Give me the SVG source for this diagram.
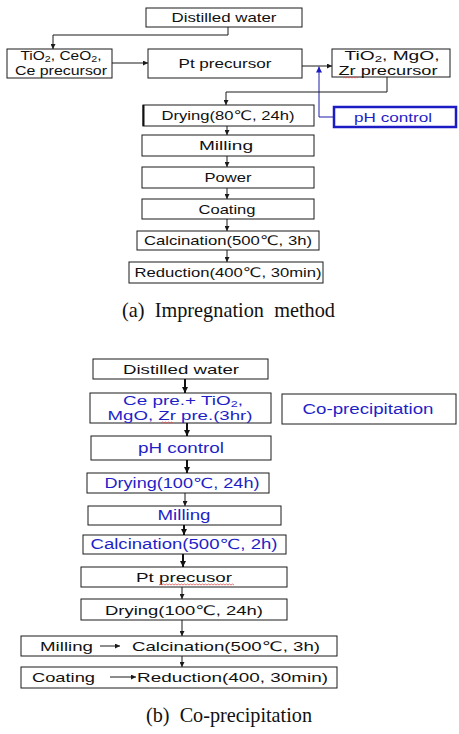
<svg xmlns="http://www.w3.org/2000/svg" width="459" height="734" viewBox="0 0 459 734">
<defs>
<style>
.box{fill:#fff;stroke:#1a1a1a;stroke-width:1}
.bb{fill:#fff;stroke:#1c1cc4;stroke-width:2.5}
.t{font-family:"Liberation Sans",Arial,"DejaVu Sans",sans-serif;font-size:13px;fill:#111;text-anchor:middle}
.ts{font-family:"Liberation Sans",Arial,"DejaVu Sans",sans-serif;font-size:13px;fill:#111}
.bl{fill:#1f1fc8;font-size:14px}
.b2{font-size:13.5px}
.sub{font-size:9px}
.c{stroke:#1a1a1a;stroke-width:1;fill:none}
.ck{stroke:#111;stroke-width:2;fill:none}
.cb{stroke:#1c1ca8;stroke-width:1;fill:none}
.sq{stroke:#e05050;stroke-width:0.8;fill:none}
.cap{font-family:"Liberation Serif","Times New Roman",serif;font-size:21px;fill:#111}
</style>
<marker id="ah" viewBox="0 0 6 6" refX="6" refY="3" markerWidth="5" markerHeight="5" markerUnits="userSpaceOnUse" orient="auto"><path d="M0,0 L6,3 L0,6 z" fill="#1a1a1a"/></marker>
<marker id="ak" viewBox="0 0 6 6" refX="6" refY="3" markerWidth="6" markerHeight="6" markerUnits="userSpaceOnUse" orient="auto"><path d="M0,0 L6,3 L0,6 z" fill="#111"/></marker>
<marker id="ab" viewBox="0 0 6 6" refX="6" refY="3" markerWidth="6" markerHeight="6" markerUnits="userSpaceOnUse" orient="auto"><path d="M0,0 L6,3 L0,6 z" fill="#1c1cc4"/></marker>
</defs>
<rect width="459" height="734" fill="#fff"/>

<g id="n-distilled-a"><rect class="box" x="146" y="8" width="156" height="19"/><text class="t" x="224" y="22" textLength="105" lengthAdjust="spacingAndGlyphs">Distilled water</text></g>
<g id="n-tio2-ceo2"><rect class="box" x="7" y="49" width="105" height="29"/>
<text class="t" x="61" y="59.5" textLength="81" lengthAdjust="spacingAndGlyphs">TiO<tspan class="sub" dy="2">2</tspan><tspan dy="-2">, CeO</tspan><tspan class="sub" dy="2">2</tspan><tspan dy="-2">,</tspan></text>
<text class="t" x="61" y="75" textLength="92" lengthAdjust="spacingAndGlyphs">Ce precursor</text></g>
<g id="n-pt-a"><rect class="box" x="148" y="49" width="154" height="29"/><text class="t" x="225" y="68" textLength="93" lengthAdjust="spacingAndGlyphs">Pt precursor</text></g>
<g id="n-tio2-mgo"><rect class="box" x="332" y="49" width="118" height="28"/>
<text class="t" x="392" y="59.5" textLength="95" lengthAdjust="spacingAndGlyphs">TiO<tspan class="sub" dy="2">2</tspan><tspan dy="-2">, MgO,</tspan></text>
<text class="t" x="388" y="74.5" textLength="99" lengthAdjust="spacingAndGlyphs">Zr precursor</text>
<path class="sq" d="M343,78 l1.5,-1 l1.5,1 l1.5,-1 l1.5,1 l1.5,-1 l1.5,1 l1.5,-1 l1.5,1 l1.5,-1 l1.5,1"/></g>
<g id="n-ph-a"><rect class="bb" x="334" y="107" width="122" height="20"/><text class="t" x="393" y="122" textLength="78" lengthAdjust="spacingAndGlyphs" style="fill:#1f1fc8">pH control</text></g>
<g id="n-drying-a"><rect class="box" x="143" y="105" width="171" height="21"/><line x1="143.5" y1="105" x2="143.5" y2="126" stroke="#111" stroke-width="2"/><text class="t" x="228" y="120" textLength="133" lengthAdjust="spacingAndGlyphs">Drying(80℃, 24h)</text></g>
<g id="n-milling-a"><rect class="box" x="142" y="135" width="172" height="21"/><text class="t" x="226" y="150" textLength="54" lengthAdjust="spacingAndGlyphs">Milling</text></g>
<g id="n-power"><rect class="box" x="142" y="167" width="172" height="21"/><text class="t" x="228" y="182" textLength="47" lengthAdjust="spacingAndGlyphs">Power</text></g>
<g id="n-coating-a"><rect class="box" x="142" y="199" width="172" height="20"/><text class="t" x="227" y="214" textLength="57" lengthAdjust="spacingAndGlyphs">Coating</text></g>
<g id="n-calc-a"><rect class="box" x="137" y="231" width="182" height="19"/><text class="t" x="228" y="245" textLength="168" lengthAdjust="spacingAndGlyphs">Calcination(500℃, 3h)</text></g>
<g id="n-red-a"><rect class="box" x="129" y="262" width="194" height="21"/><text class="t" x="228" y="277" textLength="187" lengthAdjust="spacingAndGlyphs">Reduction(400℃, 30min)</text></g>
<text id="cap-a" class="cap" x="122" y="317" textLength="213" lengthAdjust="spacingAndGlyphs">(a)&#160;&#160;Impregnation&#160;&#160;method</text>

<g id="n-distilled-b"><rect class="box" x="93" y="359" width="175" height="20"/><text class="t" x="181" y="374" textLength="116" lengthAdjust="spacingAndGlyphs">Distilled water</text></g>
<g id="n-ce-pre"><rect class="box" x="90" y="393" width="181" height="30"/>
<text class="t bl b2" x="183" y="404.5" textLength="120" lengthAdjust="spacingAndGlyphs">Ce pre.+ TiO<tspan class="sub" dy="2">2</tspan><tspan dy="-2">,</tspan></text>
<text class="t bl b2" x="180" y="419.5" textLength="145" lengthAdjust="spacingAndGlyphs">MgO, Zr pre.(3hr)</text>
<path class="sq" d="M161,423 l1.5,-1 l1.5,1 l1.5,-1 l1.5,1 l1.5,-1 l1.5,1 l1.5,-1 l1.5,1"/></g>
<g id="n-coprecip"><rect class="box" x="282" y="394" width="174" height="30"/><text class="t bl" x="368" y="414" textLength="131" lengthAdjust="spacingAndGlyphs">Co-precipitation</text></g>
<g id="n-ph-b"><rect class="box" x="91" y="436" width="180" height="24"/><text class="t bl" x="181" y="453" textLength="86" lengthAdjust="spacingAndGlyphs">pH control</text></g>
<g id="n-drying-b1"><rect class="box" x="87" y="473" width="182" height="20"/><text class="t bl" x="182" y="488" textLength="155" lengthAdjust="spacingAndGlyphs">Drying(100℃, 24h)</text></g>
<g id="n-milling-b"><rect class="box" x="88" y="506" width="193" height="19"/><text class="t bl" x="184" y="520" textLength="53" lengthAdjust="spacingAndGlyphs">Milling</text></g>
<g id="n-calc-b1"><rect class="box" x="83" y="535" width="203" height="19"/><text class="t bl" x="184" y="549" textLength="187" lengthAdjust="spacingAndGlyphs">Calcination(500℃, 2h)</text></g>
<g id="n-pt-b"><rect class="box" x="81" y="567" width="206" height="20"/><text class="t" x="184" y="582" textLength="96" lengthAdjust="spacingAndGlyphs">Pt precusor</text>
<path class="sq" d="M159,585 l1.5,-1 l1.5,1 l1.5,-1 l1.5,1 l1.5,-1 l1.5,1 l1.5,-1 l1.5,1 l1.5,-1 l1.5,1 l1.5,-1 l1.5,1 l1.5,-1 l1.5,1 l1.5,-1 l1.5,1 l1.5,-1 l1.5,1 l1.5,-1 l1.5,1 l1.5,-1 l1.5,1 l1.5,-1 l1.5,1 l1.5,-1 l1.5,1 l1.5,-1 l1.5,1 l1.5,-1 l1.5,1 l1.5,-1 l1.5,1 l1.5,-1 l1.5,1 l1.5,-1 l1.5,1 l1.5,-1 l1.5,1 l1.5,-1 l1.5,1 l1.5,-1 l1.5,1 l1.5,-1 l1.5,1 l1.5,-1 l1.5,1 l1.5,-1 l1.5,1 l1.5,-1 l1.5,1"/></g>
<g id="n-drying-b2"><rect class="box" x="81" y="599" width="206" height="21"/><text class="t" x="184" y="615" textLength="158" lengthAdjust="spacingAndGlyphs">Drying(100℃, 24h)</text></g>
<g id="n-mill-calc"><rect class="box" x="21" y="636" width="316" height="20"/>
<text class="ts" x="40" y="651" textLength="53" lengthAdjust="spacingAndGlyphs">Milling</text>
<text class="ts" x="132" y="651" textLength="188" lengthAdjust="spacingAndGlyphs">Calcination(500℃, 3h)</text></g>
<g id="n-coat-red"><rect class="box" x="21" y="667" width="316" height="21"/>
<text class="ts" x="32" y="682" textLength="63" lengthAdjust="spacingAndGlyphs">Coating</text>
<text class="ts" x="137" y="682" textLength="191" lengthAdjust="spacingAndGlyphs">Reduction(400, 30min)</text></g>
<text id="cap-b" class="cap" x="146" y="722" textLength="166" lengthAdjust="spacingAndGlyphs">(b)&#160;&#160;Co-precipitation</text>

<g id="connectors">
<path class="c" d="M228,27 V35 H53 V49" marker-end="url(#ah)"/>
<path class="c" d="M112,63 H148" marker-end="url(#ah)"/>
<path class="c" d="M302,66 H332" marker-end="url(#ah)"/>
<path class="cb" d="M334,117 H319 V66.5" marker-end="url(#ab)"/>
<path class="c" d="M387,77 V92 H226 V105" marker-end="url(#ah)"/>
<path class="c" d="M227,126 V135" marker-end="url(#ah)"/>
<path class="c" d="M227,156 V167" marker-end="url(#ah)"/>
<path class="c" d="M227,188 V199" marker-end="url(#ah)"/>
<path class="c" d="M227,219 V231" marker-end="url(#ah)"/>
<path class="c" d="M227,250 V262" marker-end="url(#ah)"/>

<path class="ck" d="M185,379 V393" marker-end="url(#ak)"/>
<path class="ck" d="M187,423 V436" marker-end="url(#ak)"/>
<path class="ck" d="M187,460 V473" marker-end="url(#ak)"/>
<path class="c" d="M185,493 V506" marker-end="url(#ah)"/>
<path class="ck" d="M184,525 V535" marker-end="url(#ak)"/>
<path class="ck" d="M183,554 V567" marker-end="url(#ak)"/>
<path class="c" d="M182,587 V599" marker-end="url(#ah)"/>
<path class="c" d="M182,620 V636" marker-end="url(#ah)"/>
<path class="c" d="M182,656 V667" marker-end="url(#ah)"/>
<path class="c" d="M100,646 H120" marker-end="url(#ah)"/>
<path class="c" d="M110,677 H136" marker-end="url(#ah)"/>
</g>
</svg>
